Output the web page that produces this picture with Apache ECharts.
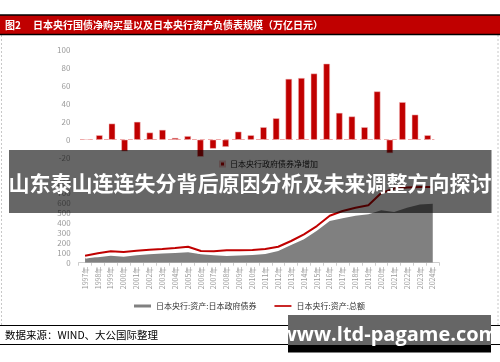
<!DOCTYPE html>
<html>
<head>
<meta charset="utf-8">
<script src="https://cdn.jsdelivr.net/npm/echarts@6/dist/echarts.min.js"></script>
<style>html,body{margin:0;padding:0;background:#fff;}#c{width:500px;height:362px;}</style>
</head>
<body>
<div id="c"></div>
<script>
var years = ['1997年','1998年','1999年','2000年','2001年','2002年','2003年','2004年','2005年','2006年','2007年','2008年','2009年','2010年','2011年','2012年','2013年','2014年','2015年','2016年','2017年','2018年','2019年','2020年','2021年','2022年','2023年','2024年'];
var netPurchase = [0.5, 5, 18, -13, 20, 8, 11, 2, 4, -19, -10, -8, 9, 5, 14, 24, 68, 69, 74, 85, 30, 26, 14, 54, -15, 42, 28, 5];
var jgbHoldings = [50, 55, 70, 60, 75, 85, 92, 98, 104, 84, 75, 68, 72, 77, 87, 117, 178, 235, 322, 419, 446, 472, 486, 526, 509, 553, 586, 593];
var totalAssets = [70, 94, 114, 107, 120, 130, 137, 147, 161, 117, 114, 124, 124, 128, 137, 160, 218, 285, 368, 472, 519, 553, 578, 700, 745, 755, 760, 760];
var topTicks = {min: -20, max: 100, interval: 20};
var bottomTicks = {min: 0, max: 800, interval: 100};

var chart = echarts.init(document.getElementById('c'), null, {renderer: 'canvas'});
var FONT = '"Noto Sans CJK SC", "Noto Sans", sans-serif';
chart.setOption({
  animation: false,
  textStyle: {fontFamily: FONT},
  grid: [
    {left: 80.4, right: 66, top: 50.3, height: 107.3},
    {left: 78.6, right: 60.8, top: 183.1, height: 79.6}
  ],
  legend: [
    {data: ['日本央行政府债券净增加'], left: 219, top: 160, padding: 0, itemWidth: 5, itemHeight: 5, itemGap: 4,
     icon: 'rect', textStyle: {fontSize: 8, color: '#222', fontFamily: FONT}},
    {data: [{name: '日本央行:资产:日本政府债券', icon: 'rect'}, {name: '日本央行:资产:总额', icon: 'path://M0,0 L10,0 L10,1 L0,1 Z'}],
     left: 134, top: 302, padding: 0, itemWidth: 17, itemHeight: 3, itemGap: 18,
     textStyle: {fontSize: 8, color: '#333', fontFamily: FONT}}
  ],
  xAxis: [
    {type: 'category', gridIndex: 0, data: years, position: 'bottom',
     axisLine: {onZero: true, lineStyle: {color: '#f0a8a8', type: [4, 4], width: 1}},
     axisTick: {show: false}, axisLabel: {show: false}},
    {type: 'category', gridIndex: 1, data: years,
     axisLine: {lineStyle: {color: '#cccccc'}},
     axisTick: {show: true, alignWithLabel: false, length: 3, lineStyle: {color: '#cccccc'}},
     axisLabel: {rotate: 90, fontSize: 7, color: '#999', margin: 4, interval: 0}}
  ],
  yAxis: [
    {type: 'value', gridIndex: 0, min: topTicks.min, max: topTicks.max, interval: topTicks.interval,
     axisLine: {show: false}, axisTick: {show: false}, splitLine: {show: false},
     axisLabel: {fontSize: 8, color: '#9a9a9a', margin: 10}},
    {type: 'value', gridIndex: 1, min: bottomTicks.min, max: bottomTicks.max, interval: bottomTicks.interval,
     axisLine: {show: false}, axisTick: {show: false}, splitLine: {show: false},
     axisLabel: {fontSize: 8, color: '#9a9a9a', margin: 8}}
  ],
  series: [
    {name: '日本央行政府债券净增加', type: 'bar', xAxisIndex: 0, yAxisIndex: 0, data: netPurchase,
     barWidth: 6.5, itemStyle: {color: '#c00000', borderColor: '#f2c4c4', borderWidth: 0.5}},
    {name: '日本央行:资产:日本政府债券', type: 'line', xAxisIndex: 1, yAxisIndex: 1, data: jgbHoldings,
     symbol: 'none', lineStyle: {width: 0}, itemStyle: {color: '#808080'},
     areaStyle: {color: '#808080', opacity: 1}, z: 2},
    {name: 'whiteBorder', type: 'line', xAxisIndex: 1, yAxisIndex: 1, data: totalAssets,
     symbol: 'none', lineStyle: {width: 6, color: '#ffffff'}, itemStyle: {color: '#ffffff'}, z: 3, silent: true},
    {name: '日本央行:资产:总额', type: 'line', xAxisIndex: 1, yAxisIndex: 1, data: totalAssets,
     symbol: 'none', lineStyle: {width: 2, color: '#c00000'}, itemStyle: {color: '#c00000'}, z: 4}
  ],
  graphic: [
    {type: 'rect', shape: {x: 0, y: 15, width: 500, height: 19.5}, style: {fill: '#c00000'}, z: 50},
    {type: 'line', shape: {x1: 0, y1: 15, x2: 500, y2: 15}, style: {stroke: '#000', lineWidth: 1.5}, z: 51},
    {type: 'line', shape: {x1: 0, y1: 34.5, x2: 500, y2: 34.5}, style: {stroke: '#000', lineWidth: 1.5}, z: 51},
    {type: 'text', x: 5, y: 25, style: {text: '图2', fill: '#fff', font: 'bold 10px ' + FONT, verticalAlign: 'middle'}, z: 52},
    {type: 'text', x: 33, y: 25, style: {text: '日本央行国债净购买量以及日本央行资产负债表规模（万亿日元）', fill: '#fff', font: 'bold 10px ' + FONT, verticalAlign: 'middle'}, z: 52},
    {type: 'line', shape: {x1: 1.5, y1: 35, x2: 1.5, y2: 325}, style: {stroke: '#c8c8c8', lineWidth: 1, lineDash: [2, 2]}, z: 50},
    {type: 'line', shape: {x1: 498, y1: 35, x2: 498, y2: 325}, style: {stroke: '#c8c8c8', lineWidth: 1, lineDash: [2, 2]}, z: 50},
    {type: 'line', shape: {x1: 0, y1: 325.5, x2: 500, y2: 325.5}, style: {stroke: '#000', lineWidth: 1}, z: 50},
    {type: 'line', shape: {x1: 0, y1: 344.5, x2: 500, y2: 344.5}, style: {stroke: '#000', lineWidth: 1}, z: 50},
    {type: 'text', x: 5, y: 335.5, style: {text: '数据来源：WIND、大公国际整理', fill: '#000', font: '10.5px ' + FONT, verticalAlign: 'middle'}, z: 52},
    {type: 'rect', shape: {x: 9, y: 150, width: 482.5, height: 63}, style: {fill: 'rgba(0,0,0,0.6)'}, z: 100},
    {type: 'text', x: 250, y: 183, style: {text: '山东泰山连连失分背后原因分析及未来调整方向探讨', fill: '#fff', font: 'bold 21px ' + FONT, align: 'center', verticalAlign: 'middle'}, z: 101},
    {type: 'rect', shape: {x: 288, y: 315, width: 203, height: 30}, style: {fill: '#666666'}, z: 100},
    {type: 'rect', shape: {x: 288, y: 345, width: 203, height: 7.5}, style: {fill: '#000000'}, z: 100},
    {type: 'text', x: 389, y: 335, style: {text: 'www.ltd-pagame.com', fill: '#fff', font: 'bold 20px "Open Sans", "DejaVu Sans", sans-serif', align: 'center', verticalAlign: 'middle'}, z: 101}
  ]
});
</script>
</body>
</html>
